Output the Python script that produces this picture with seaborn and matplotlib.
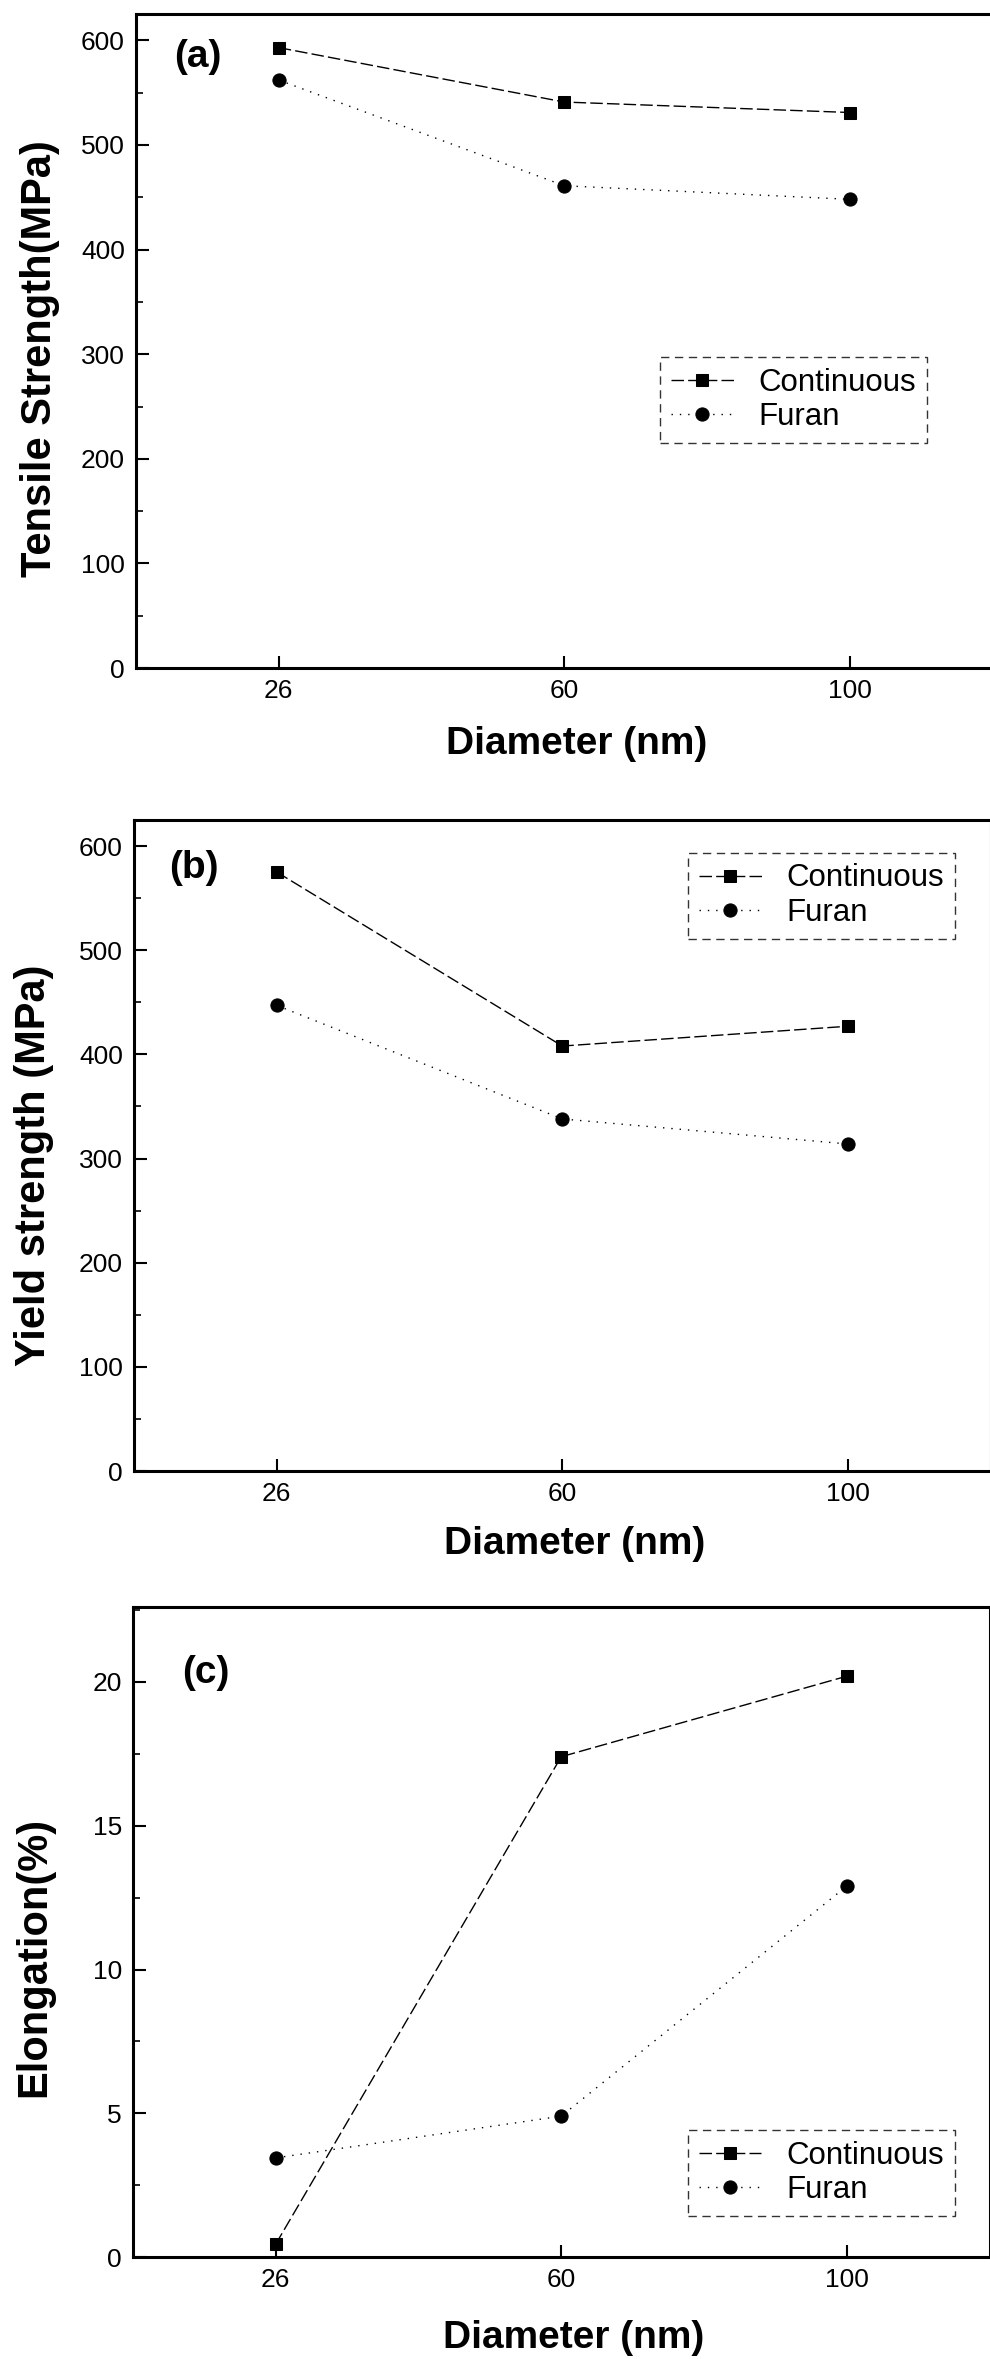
import numpy as np
import pandas as pd
import matplotlib
matplotlib.use("Agg")
import matplotlib.pyplot as plt
from matplotlib.ticker import MultipleLocator
import seaborn as sns

# values
diameters = ["26", "60", "100"]
tensile_cont = [593, 541, 531]
tensile_furan = [562, 461, 448]
yield_cont = [575, 408, 427]
yield_furan = [447, 338, 314]
elong_cont = [0.45, 17.4, 20.2]
elong_furan = [3.45, 4.9, 12.9]

sns.set_style("ticks")
plt.rcParams['font.family'] = ['Liberation Sans', 'DejaVu Sans']
for k in ["text.color", "axes.labelcolor", "xtick.color", "ytick.color", "axes.edgecolor"]:
    plt.rcParams[k] = "black"
narrow = ['Liberation Sans Narrow', 'Liberation Sans', 'DejaVu Sans']

fig = plt.figure(figsize=(9.9, 23.59), dpi=100)

panels = [
    dict(rect=[0.1374, 0.7168, 0.8652, 0.2772], cont=tensile_cont, furan=tensile_furan,
         ylabel="Tensile Strength(MPa)", tag="(a)", ylim=(0, 625), major=100, minor=50,
         tagpos=(0.045, 0.934), leg=(0.612, 0.476), ylab=(-0.089, 0.474), xlab=(0.514, -0.089)),
    dict(rect=[0.1354, 0.3764, 0.8652, 0.2760], cont=yield_cont, furan=yield_furan,
         ylabel="Yield strength (MPa)", tag="(b)", ylim=(0, 625), major=100, minor=50,
         tagpos=(0.041, 0.926), leg=(0.647, 0.950), ylab=(-0.093, 0.470), xlab=(0.514, -0.084)),
    dict(rect=[0.1343, 0.0432, 0.8652, 0.2755], cont=elong_cont, furan=elong_furan,
         ylabel="Elongation(%)", tag="(c)", ylim=(0, 22.6), major=5, minor=2.5,
         tagpos=(0.057, 0.898), leg=(0.648, 0.196), ylab=(-0.092, 0.4615), xlab=(0.514, -0.097)),
]

for p in panels:
    ax = fig.add_axes(p["rect"])
    df = pd.DataFrame({"Diameter": diameters, "Continuous": p["cont"], "Furan": p["furan"]})
    sns.lineplot(data=df, x="Diameter", y="Continuous", ax=ax, color="black", marker="s",
                 markersize=9, linewidth=1.0, linestyle=(0, (9, 3)), label="Continuous",
                 markeredgecolor="black")
    sns.lineplot(data=df, x="Diameter", y="Furan", ax=ax, color="black", marker="o",
                 markersize=9.5, linewidth=1.0, linestyle=(0, (1, 5)), label="Furan",
                 markeredgecolor="black")

    ax.set_xlim(-0.5, 2.5)
    ax.set_ylim(*p["ylim"])
    ax.yaxis.set_major_locator(MultipleLocator(p["major"]))
    ax.yaxis.set_minor_locator(MultipleLocator(p["minor"]))
    ax.tick_params(axis="both", which="major", direction="in", length=9, width=1.5, pad=8,
                   labelsize=19)
    ax.tick_params(axis="y", which="minor", direction="in", length=5, width=1.2)
    for lab in ax.get_xticklabels() + ax.get_yticklabels():
        lab.set_family(narrow)
    for s in ax.spines.values():
        s.set_linewidth(2.2)
        s.set_color("black")

    ax.set_ylabel(p["ylabel"], fontsize=30, fontweight="bold")
    ax.yaxis.set_label_coords(*p["ylab"])
    ax.set_xlabel("Diameter (nm)", fontsize=28, fontweight="bold", va="top")
    ax.xaxis.set_label_coords(*p["xlab"])

    ax.text(p["tagpos"][0], p["tagpos"][1], p["tag"], transform=ax.transAxes,
            fontsize=28, fontweight="bold", va="center", ha="left")

    leg = ax.legend(loc="upper left", bbox_to_anchor=p["leg"], fontsize=22.5, frameon=True,
                    fancybox=False, handlelength=2.0, handletextpad=0.8, borderpad=0.35,
                    labelspacing=0.15, borderaxespad=0)
    fr = leg.get_frame()
    fr.set_edgecolor("black")
    fr.set_linewidth(1.0)
    fr.set_linestyle((0, (6, 4)))

fig.savefig("out.png", dpi=100)
